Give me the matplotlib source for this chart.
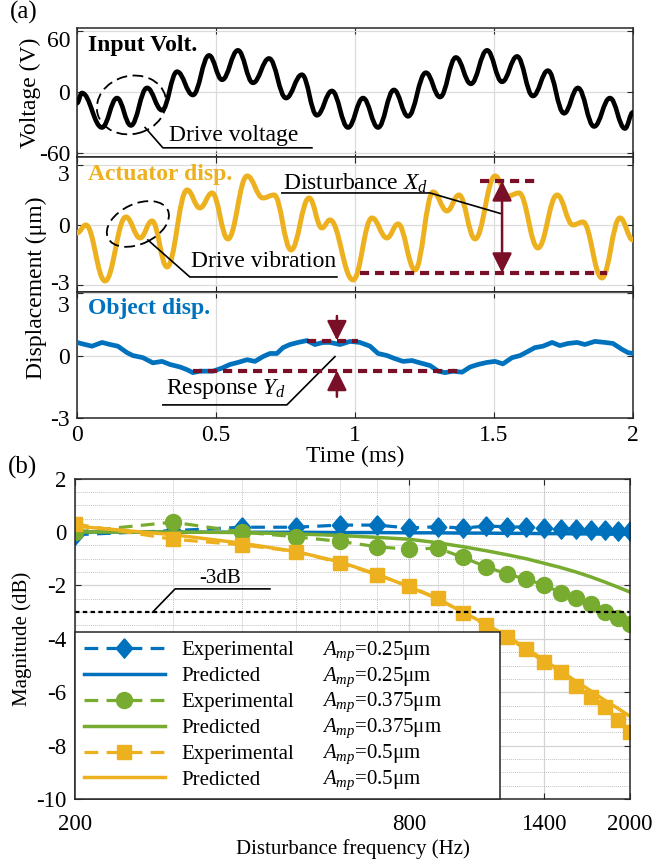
import matplotlib
matplotlib.use("Agg")
import matplotlib.pyplot as plt
from matplotlib.path import Path
from matplotlib.patches import PathPatch, Ellipse
from matplotlib.transforms import ScaledTranslation
from matplotlib.ticker import FixedLocator, MultipleLocator, NullFormatter

plt.rcParams['font.family'] = 'Liberation Serif'
plt.rcParams['mathtext.fontset'] = 'custom'
plt.rcParams['mathtext.rm'] = 'Liberation Serif'
plt.rcParams['mathtext.it'] = 'Liberation Serif:italic'
plt.rcParams['axes.unicode_minus'] = False

BLUE = '#0072BD'
ORANGE = '#EDB120'
GREEN = '#77AC30'
MAROON = '#7A0F28'
EDGE = '#262626'

# ---- panel (a): extrema of the time traces
volt_t = [0.0, 0.018, 0.090, 0.144, 0.194, 0.252, 0.306, 0.360, 0.417, 0.475,
          0.522, 0.579, 0.633, 0.691, 0.752, 0.809, 0.863, 0.917, 0.975, 1.029,
          1.083, 1.140, 1.191, 1.255, 1.306, 1.363, 1.417, 1.475, 1.529, 1.583,
          1.640, 1.694, 1.752, 1.802, 1.860, 1.917, 1.971, 2.0]
volt_v = [-11, -1, -35, -6, -33, 4, -18, 20, -3, 36,
          12, 41, 9, 33, -6, 17, -23, 1, -35, -6,
          -35, 2, -24, 19, -5, 34, 8, 41, 10, 35,
          -4, 21, -21, 4, -34, -6, -36, -20]

act_t = [0.0, 0.032, 0.101, 0.176, 0.227, 0.270, 0.324, 0.396, 0.442, 0.486,
         0.543, 0.612, 0.669, 0.709, 0.770, 0.835, 0.881, 0.910, 0.993, 1.061,
         1.115, 1.155, 1.216, 1.281, 1.331, 1.374, 1.432, 1.504, 1.550, 1.590,
         1.658, 1.727, 1.784, 1.820, 1.888, 1.953, 2.0]
act_v = [-0.4, 0.0, -2.8, 0.4, -0.65, 0.2, -2.1, 1.75, 0.85, 1.6,
         -0.7, 2.45, 1.35, 1.5, -1.25, 1.35, -0.15, 0.25, -2.75, 0.35,
         -0.65, 0.05, -2.25, 1.65, 0.7, 1.5, -0.7, 2.45, 1.45, 1.6,
         -1.15, 1.5, 0.0, 0.15, -2.65, 0.35, -0.75]

obj_t = [0.000, 0.029, 0.054, 0.090, 0.119, 0.147, 0.180, 0.201, 0.237, 0.273,
         0.306, 0.335, 0.371, 0.396, 0.417, 0.442, 0.468, 0.489, 0.522, 0.550,
         0.579, 0.612, 0.640, 0.669, 0.694, 0.719, 0.741, 0.766, 0.795, 0.827,
         0.856, 0.885, 0.910, 0.946, 0.982, 1.018, 1.054, 1.083, 1.115, 1.144,
         1.173, 1.205, 1.234, 1.270, 1.299, 1.324, 1.353, 1.385, 1.414, 1.442,
         1.475, 1.504, 1.532, 1.565, 1.594, 1.622, 1.647, 1.676, 1.709, 1.737,
         1.766, 1.799, 1.827, 1.863, 1.899, 1.928, 1.960, 1.982, 2.000]
obj_v = [0.63, 0.53, 0.45, 0.63, 0.53, 0.45, 0.14, 0.0, -0.1, -0.35,
         -0.28, -0.43, -0.55, -0.68, -0.82, -0.75, -0.75, -0.75, -0.6, -0.43,
         -0.33, -0.2, -0.28, -0.05, 0.1, 0.1, 0.38, 0.53, 0.63, 0.72,
         0.53, 0.63, 0.63, 0.53, 0.68, 0.63, 0.45, 0.1, 0.0, -0.15,
         -0.28, -0.24, -0.35, -0.48, -0.75, -0.82, -0.75, -0.8, -0.55, -0.43,
         -0.33, -0.28, -0.4, -0.1, 0.0, 0.2, 0.38, 0.45, 0.63, 0.48,
         0.58, 0.63, 0.53, 0.68, 0.63, 0.58, 0.3, 0.14, 0.1]

# ---- panel (b): frequency response
freq = [200, 300, 400, 500, 600, 700, 800, 900, 1000, 1100,
        1200, 1300, 1400, 1500, 1600, 1700, 1800, 1900, 2000]
blue_exp = [-0.1, 0.05, 0.18, 0.18, 0.26, 0.26, 0.15, 0.2, 0.15, 0.22,
            0.2, 0.18, 0.15, 0.12, 0.1, 0.08, 0.06, 0.05, 0.04]
blue_pred = [0.0, 0.0, -0.01, -0.01, -0.02, -0.02, -0.03, -0.03, -0.04, -0.04,
             -0.05, -0.05, -0.06, -0.06, -0.07, -0.07, -0.08, -0.08, -0.09]
green_exp = [0.0, 0.37, 0.0, -0.18, -0.35, -0.55, -0.65, -0.6, -0.95, -1.3,
             -1.57, -1.77, -1.98, -2.27, -2.47, -2.7, -2.99, -3.22, -3.45]
green_pred = [0.0, 0.0, -0.02, -0.07, -0.13, -0.2, -0.27, -0.4, -0.55, -0.7,
              -0.85, -1.0, -1.17, -1.33, -1.5, -1.68, -1.87, -2.06, -2.25]
orange_exp = [0.3, -0.27, -0.48, -0.73, -1.15, -1.6, -2.03, -2.48, -3.03, -3.48,
              -3.95, -4.4, -4.87, -5.24, -5.77, -6.18, -6.55, -7.04, -7.5]
orange_pred = [0.22, -0.1, -0.42, -0.73, -1.12, -1.58, -2.05, -2.5, -3.0, -3.45,
               -3.9, -4.35, -4.8, -5.2, -5.6, -5.95, -6.3, -6.6, -6.9]
kinds = ['Experimental', 'Predicted', 'Experimental', 'Predicted', 'Experimental', 'Predicted']
amps = ['$A_{mp}$=0.25\u03bcm', '$A_{mp}$=0.25\u03bcm', '$A_{mp}$=0.375\u03bcm',
        '$A_{mp}$=0.375\u03bcm', '$A_{mp}$=0.5\u03bcm', '$A_{mp}$=0.5\u03bcm']

fig = plt.figure(figsize=(6.54, 8.61), dpi=100)
ax1 = fig.add_axes([0.1177, 0.8177, 0.8502, 0.1498])
ax2 = fig.add_axes([0.1177, 0.6609, 0.8502, 0.1568])
ax3 = fig.add_axes([0.1177, 0.5145, 0.8502, 0.1463])
axb = fig.add_axes([0.1147, 0.0720, 0.8486, 0.3721])


def wave(ax, t, v, color, lw):
    # smooth curve through the read extrema (flat tangent at each point)
    verts = [(t[0], v[0])]
    codes = [Path.MOVETO]
    for i in range(1, len(t)):
        d = (t[i] - t[i - 1]) * 0.4
        verts += [(t[i - 1] + d, v[i - 1]), (t[i] - d, v[i]), (t[i], v[i])]
        codes += [Path.CURVE4] * 3
    ax.add_patch(PathPatch(Path(verts, codes), fill=False, edgecolor=color,
                           lw=lw, capstyle='round', joinstyle='round', zorder=3))


def ring(ax, t, v, w, h, ang):
    tr = fig.dpi_scale_trans + ScaledTranslation(t, v, ax.transData)
    ax.add_patch(Ellipse((0, 0), w / 100, h / 100, angle=ang, transform=tr,
                         fill=False, ec='k', lw=1.3, ls=(0, (6, 3)), zorder=4))


def leader(ax, pts):
    ax.plot([p[0] for p in pts], [p[1] for p in pts], color='k', lw=1.2, zorder=4)


def nudge(lab, dy):
    lab.set_transform(lab.get_transform() + ScaledTranslation(0, dy / 100, fig.dpi_scale_trans))


for ax in (ax1, ax2, ax3):
    ax.set_xlim(0, 2)
    ax.set_xticks([0, 0.5, 1, 1.5, 2])
    ax.grid(True, color='#dcdcdc', lw=0.9)
    ax.set_axisbelow(True)
    ax.tick_params(direction='in', top=True, right=True, length=4,
                   labelsize=17, color=EDGE, pad=5)
    for s in ax.spines.values():
        s.set_color(EDGE)
        s.set_linewidth(1.1)

ax1.set_ylim(-64, 63)
ax1.set_yticks([-60, 0, 60])
ax2.set_ylim(-3.35, 3.4)
ax2.set_yticks([-3, 0, 3])
ax3.set_ylim(-3, 3.05)
ax3.set_yticks([-3, 0, 3])
ax1.tick_params(labelbottom=False)
ax2.tick_params(labelbottom=False)
ax3.set_xticklabels(['0', '0.5', '1', '1.5', '2'])

wave(ax1, volt_t, volt_v, 'k', 3.3)
wave(ax2, act_t, act_v, ORANGE, 3.6)
ax3.plot(obj_t, obj_v, color=BLUE, lw=3.4, solid_joinstyle='round', zorder=3)

ax1.text(0.04, 46, 'Input Volt.', fontsize=17, fontweight='bold', va='center')
ax2.text(0.04, 2.5, 'Actuator disp.', fontsize=17, fontweight='bold', color=ORANGE, va='center')
ax3.text(0.04, 2.25, 'Object disp.', fontsize=17, fontweight='bold', color=BLUE, va='center')

ax1.text(0.33, -43, 'Drive voltage', fontsize=17, va='center')
leader(ax1, [(0.845, -55), (0.309, -55), (0.245, -35)])
ring(ax1, 0.196, -12.8, 70, 58, 15)

ax2.text(0.41, -1.85, 'Drive vibration', fontsize=17, va='center')
leader(ax2, [(0.935, -2.6), (0.406, -2.6), (0.255, -0.75)])
ring(ax2, 0.219, 0.05, 66, 40, 25)

ax2.text(0.74, 2.1, 'Disturbance $X_d$', fontsize=17, va='center')
leader(ax2, [(0.737, 1.6), (1.27, 1.6), (1.529, 0.55)])
dash = (0, (2.2, 1.4))
ax2.plot([1.45, 1.647], [2.2, 2.2], color=MAROON, lw=3, ls=dash, zorder=4)
ax2.plot([1.018, 1.906], [-2.4, -2.4], color=MAROON, lw=3, ls=dash, zorder=4)
ax2.annotate('', xy=(1.529, 2.2), xytext=(1.529, -2.4), zorder=5,
             arrowprops=dict(arrowstyle='<|-|>,head_length=0.6,head_width=0.3',
                             color=MAROON, lw=1.8, mutation_scale=20, shrinkA=0, shrinkB=0))

ax3.text(0.32, -1.6, 'Response $Y_d$', fontsize=17, va='center')
leader(ax3, [(0.309, -2.37), (0.755, -2.37), (0.928, -0.05)])
ax3.plot([0.827, 1.01], [0.72, 0.72], color=MAROON, lw=3, ls=dash, zorder=4)
ax3.plot([0.417, 1.385], [-0.72, -0.72], color=MAROON, lw=3, ls=dash, zorder=4)
for y0, y1 in ((1.9, 0.72), (-1.98, -0.72)):
    ax3.annotate('', xy=(0.935, y1), xytext=(0.935, y0), zorder=5,
                 arrowprops=dict(arrowstyle='-|>,head_length=0.6,head_width=0.3',
                                 color=MAROON, lw=1.8, mutation_scale=20, shrinkA=0, shrinkB=0))

ax1.set_ylabel('Voltage (V)', fontsize=17)
ax1.yaxis.set_label_coords(-0.064, 0.5)
ax3.set_xlabel('Time (ms)', fontsize=17, labelpad=0)
fig.text(0.056, (0.6609 + 0.1568 + 0.5145) / 2, 'Displacement (\u03bcm)', fontsize=17,
         rotation=90, ha='center', va='center')
fig.text(0.015, 0.986, '(a)', fontsize=18, va='center')
fig.text(0.012, 0.457, '(b)', fontsize=18, va='center')

# top tick labels of the stacked panels sit a little lower, as in the original
nudge(ax1.yaxis.get_major_ticks()[-1].label1, -8)
nudge(ax2.yaxis.get_major_ticks()[-1].label1, -8)
nudge(ax2.yaxis.get_major_ticks()[0].label1, 3)
nudge(ax3.yaxis.get_major_ticks()[-1].label1, -11)

# ---- panel (b)
axb.set_xscale('log')
axb.set_xlim(200, 2000)
axb.set_ylim(-10, 2)
axb.set_xticks([200, 800, 1400, 2000])
axb.set_xticklabels(['200', '800', '1400', '2000'])
axb.xaxis.set_minor_locator(FixedLocator([300, 400, 500, 600, 700, 900, 1000]))
axb.xaxis.set_minor_formatter(NullFormatter())
axb.set_yticks([-10, -8, -6, -4, -2, 0, 2])
axb.yaxis.set_minor_locator(MultipleLocator(0.5))
axb.grid(which='major', color='#d4d4d4', lw=0.9)
axb.grid(which='minor', color='#c4c4c4', lw=0.7, ls=(0, (1, 1)))
axb.set_axisbelow(True)
axb.tick_params(which='major', direction='in', top=True, right=True, length=4,
                labelsize=16.5, color=EDGE, pad=6)
axb.tick_params(axis='x', which='major', pad=11)
axb.tick_params(which='minor', length=0)
for s in axb.spines.values():
    s.set_color(EDGE)
    s.set_linewidth(1.1)

dia = [(0, 1), (0.85, 0), (0, -1), (-0.85, 0), (0, 1)]
exp_kw = dict(lw=2.3, dashes=(4.3, 2.6))
axb.plot(freq, blue_exp, color=BLUE, marker=dia, ms=14, **exp_kw)
axb.plot(freq, blue_pred, color=BLUE, lw=2.5)
axb.plot(freq, green_exp, color=GREEN, marker='o', ms=11.5, **exp_kw)
axb.plot(freq, green_pred, color=GREEN, lw=2.5)
axb.plot(freq, orange_exp, color=ORANGE, marker='s', ms=10, **exp_kw)
axb.plot(freq, orange_pred, color=ORANGE, lw=2.5)
axb.axhline(-3, color='k', lw=1.6, dashes=(2, 1.5))

axb.text(365, -1.75, '-3dB', fontsize=15, ha='center', va='center')
leader(axb, [(449, -2.13), (303, -2.13), (276, -3.0)])

axb.set_xlabel('Disturbance frequency (Hz)', fontsize=15, labelpad=3)
axb.set_ylabel('Magnitude (dB)', fontsize=15)
axb.yaxis.set_label_coords(-0.077, 0.5)

leg = axb.legend(axb.get_lines()[:6], kinds, loc='lower left', mode='expand',
                 bbox_to_anchor=(0, 0, 0.766, 0.3), borderaxespad=0, fontsize=15,
                 handlelength=3.85, handletextpad=0.8, labelspacing=0.3,
                 borderpad=0.45, fancybox=False, framealpha=1, edgecolor=EDGE)
leg.get_frame().set_linewidth(1.1)

fig.canvas.draw()
for txt, amp in zip(leg.get_texts(), amps):
    bb = txt.get_window_extent()
    fig.text(322 / 654, (bb.y0 + bb.y1) / 2 / fig.bbox.height, amp,
             fontsize=15, va='center', ha='left')

fig.savefig('out.png', dpi=100)
